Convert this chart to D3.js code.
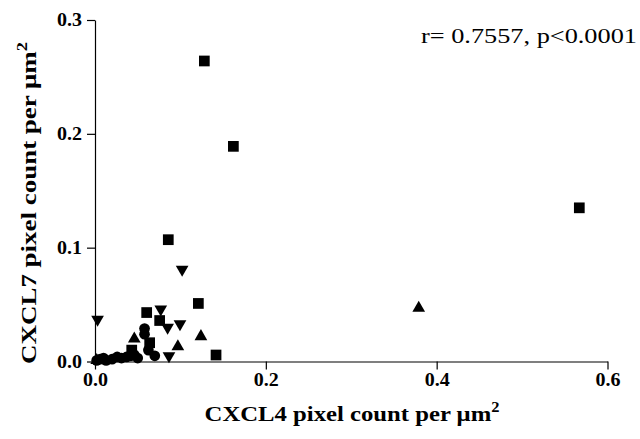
<!DOCTYPE html>
<html><head><meta charset="utf-8">
<script src="https://cdn.jsdelivr.net/npm/d3@7"></script>
<style>body{margin:0;background:#fff}svg{display:block}</style>
</head><body><div id="chart"></div>
<script>
// Data (CXCL4 x, CXCL7 y) per µm²
const squares = [[0.128,0.264],[0.162,0.189],[0.567,0.135],[0.0858,0.107],[0.121,0.051],[0.0605,0.043],[0.0757,0.036],[0.064,0.0165],[0.043,0.010],[0.1417,0.0057]];
const upTriangles = [[0.379,0.047],[0.046,0.020],[0.124,0.022],[0.097,0.013],[0.002,0.001],[0.045,0.008]];
const downTriangles = [[0.003,0.037],[0.102,0.081],[0.077,0.046],[0.085,0.030],[0.0995,0.033],[0.0866,0.005]];
const circles = [[0.002,0.001],[0.006,0.002],[0.010,0.003],[0.013,0.001],[0.020,0.002],[0.026,0.004],[0.031,0.003],[0.037,0.004],[0.042,0.005],[0.046,0.006],[0.050,0.003],[0.058,0.029],[0.058,0.024],[0.0625,0.010],[0.070,0.005]];
const xTicks = [0, 0.2, 0.4, 0.6];
const yTicks = [0, 0.1, 0.2, 0.3];
const annotation = "r= 0.7557, p<0.0001";
const xTitle = "CXCL4 pixel count per μm";
const yTitle = "CXCL7 pixel count per μm";

const W = 640, H = 439;
const m = {left:95, right:32.5, top:20, bottom:77.5};
const svg = d3.select("#chart").append("svg").attr("width",W).attr("height",H);
const x = d3.scaleLinear().domain([0,0.6]).range([m.left, W-m.right]);
const y = d3.scaleLinear().domain([0,0.3]).range([H-m.bottom, m.top]);
const serif = "'Liberation Serif','Times New Roman',serif";

const xAxis = svg.append("g").attr("transform",`translate(0,${y(0)})`)
  .call(d3.axisBottom(x).tickValues(xTicks).tickFormat(d3.format(".1f")).tickSizeInner(8).tickSizeOuter(0).tickPadding(4));
const yAxis = svg.append("g").attr("transform",`translate(${x(0)},0)`)
  .call(d3.axisLeft(y).tickValues(yTicks).tickFormat(d3.format(".1f")).tickSizeInner(8).tickSizeOuter(0).tickPadding(5));
[xAxis,yAxis].forEach(g=>{
  g.selectAll("path,line").attr("stroke","#000").attr("stroke-width",1.2);
  g.selectAll("text").attr("font-family",serif).attr("font-weight","bold").attr("font-size",18).attr("fill","#000")
    .attr("textLength",25).attr("lengthAdjust","spacingAndGlyphs");
});

const sym = (type,size)=>d3.symbol().type(type).size(size)();
const groups = [
  {data:squares, path:sym(d3.symbolSquare,115), rot:0},
  {data:upTriangles, path:sym(d3.symbolTriangle,70), rot:0},
  {data:downTriangles, path:sym(d3.symbolTriangle,70), rot:180},
  {data:circles, path:sym(d3.symbolCircle,90), rot:0}
];
groups.forEach(gr=>{
  svg.append("g").selectAll("path").data(gr.data).join("path")
    .attr("d",gr.path)
    .attr("transform",d=>`translate(${x(d[0])},${y(d[1])}) rotate(${gr.rot})`)
    .attr("fill","#000");
});

// helper: place text in group, scale along its length to target width
function fitted(tx, ty, rot, target, build){
  const outer = svg.append("g").attr("transform",`translate(${tx},${ty}) rotate(${rot})`);
  const inner = outer.append("g");
  const t = inner.append("text").attr("text-anchor","middle").attr("font-family",serif);
  build(t);
  const w = t.node().getBBox().width;
  inner.attr("transform",`scale(${target/w},1)`);
}

// annotation (right edge 637, width 216)
fitted(637-108, 43, 0, 216, t=>t.attr("font-size",22).text(annotation));

// x title
fitted(352, 421, 0, 295, t=>{
  t.attr("font-weight","bold").attr("font-size",21);
  t.append("tspan").text(xTitle);
  t.append("tspan").attr("dy",-9).attr("font-size",14).text("2");
});

// y title
fitted(36, 203, -90, 322, t=>{
  t.attr("font-weight","bold").attr("font-size",22);
  t.append("tspan").text(yTitle);
  t.append("tspan").attr("dy",-9).attr("font-size",15).text("2");
});
</script></body></html>
